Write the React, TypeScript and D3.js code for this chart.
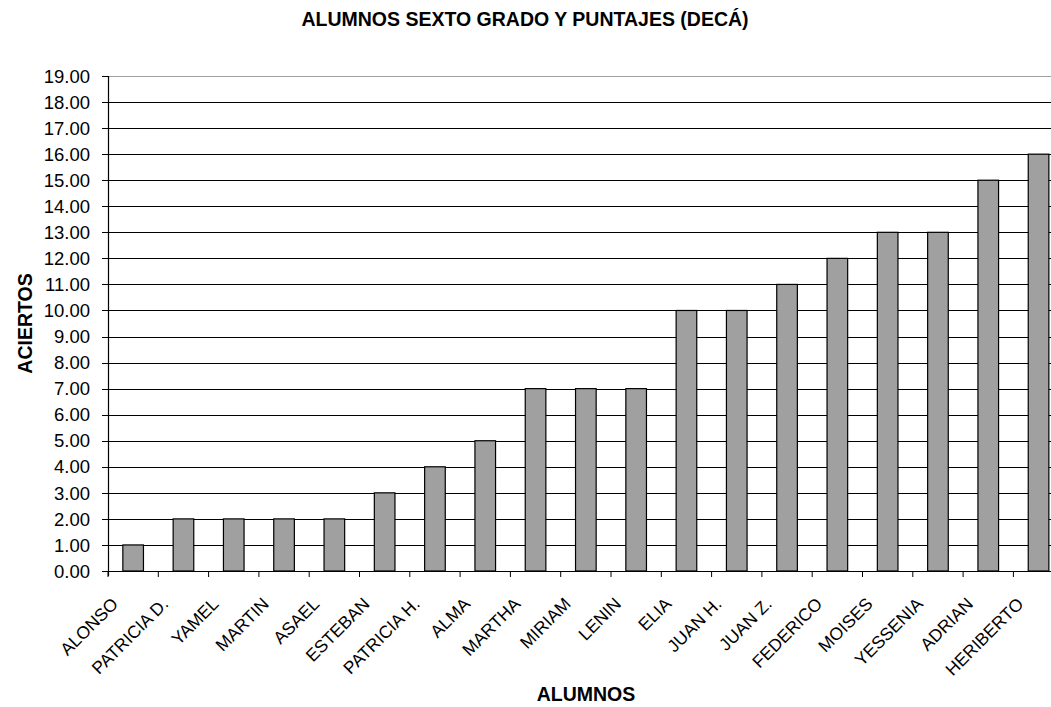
import React from "react";
import * as d3 from "d3";

const categories = [
  "ALONSO", "PATRICIA D.", "YAMEL", "MARTIN", "ASAEL", "ESTEBAN", "PATRICIA H.",
  "ALMA", "MARTHA", "MIRIAM", "LENIN", "ELIA", "JUAN H.", "JUAN Z.", "FEDERICO",
  "MOISES", "YESSENIA", "ADRIAN", "HERIBERTO",
];
const values = [1, 2, 2, 2, 2, 3, 4, 5, 7, 7, 7, 10, 10, 11, 12, 13, 13, 15, 16];
const yTicks = d3.range(0, 20, 1);
const title = "ALUMNOS SEXTO GRADO Y PUNTAJES (DECÁ)";
const xTitle = "ALUMNOS";
const yTitle = "ACIERTOS";

const W = 1051;
const H = 707;
const plotLeft = 108;
const step = 50.3;
const plotRight = plotLeft + step * categories.length;
const plotTop = 76;
const plotBottom = 571;
const FONT = "'Liberation Sans', Arial, sans-serif";

export default function App() {
  const x = d3
    .scaleBand<string>()
    .domain(categories)
    .range([plotLeft, plotRight])
    .paddingInner(0.59)
    .paddingOuter(0.295);
  const band = d3.scaleBand<string>().domain(categories).range([plotLeft, plotRight]);
  const y = d3.scaleLinear().domain([0, 19]).range([plotBottom, plotTop]);
  const fmt = d3.format(".2f");
  const boundaries = d3.range(0, categories.length + 1).map((i) => plotLeft + band.step() * i);

  return (
    <div style={{ position: "absolute", left: 0, top: 0 }}>
      <svg width={W} height={H} style={{ display: "block", background: "#fff" }} fontFamily={FONT}>
        <rect x={0} y={0} width={W} height={H} fill="#fff" />
        {yTicks.map((t) => (
          <line
            key={"g" + t}
            x1={plotLeft}
            x2={plotRight}
            y1={Math.round(y(t)) + 0.5}
            y2={Math.round(y(t)) + 0.5}
            stroke={t === 19 ? "#a0a0a0" : "#000"}
            strokeWidth={1}
          />
        ))}
        {categories.map((c, i) => (
          <rect
            key={c}
            x={x(c)!}
            y={y(values[i])}
            width={x.bandwidth()}
            height={y(0) - y(values[i])}
            fill="#a0a0a0"
            stroke="#000"
            strokeWidth={1.2}
          />
        ))}
        <line x1={plotLeft + 0.5} x2={plotLeft + 0.5} y1={plotTop} y2={plotBottom + 5} stroke="#000" strokeWidth={1.2} />
        {yTicks.map((t) => (
          <g key={"yt" + t}>
            <line
              x1={plotLeft - 6}
              x2={plotLeft}
              y1={Math.round(y(t)) + 0.5}
              y2={Math.round(y(t)) + 0.5}
              stroke="#000"
            />
            <text x={90} y={y(t)} dy="0.36em" textAnchor="end" fontSize={18.5} fill="#000">
              {fmt(t)}
            </text>
          </g>
        ))}
        <line x1={plotLeft} x2={plotRight} y1={plotBottom + 0.5} y2={plotBottom + 0.5} stroke="#000" strokeWidth={1.2} />
        {boundaries.map((b, i) => (
          <line key={"xt" + i} x1={b} x2={b} y1={plotBottom} y2={plotBottom + 6} stroke="#000" />
        ))}
        {categories.map((c) => {
          const cx = band(c)! + band.bandwidth() / 2;
          return (
            <text
              key={"xl" + c}
              transform={`translate(${cx - 14},${605}) rotate(-45)`}
              textAnchor="end"
              fontSize={17.5}
              fill="#000"
            >
              {c}
            </text>
          );
        })}
        <text x={525} y={26} textAnchor="middle" fontSize={19.5} fontWeight="bold" fill="#000">
          {title}
        </text>
        <text x={586} y={701} textAnchor="middle" fontSize={19.5} fontWeight="bold" fill="#000">
          {xTitle}
        </text>
        <text
          transform={`translate(32,323.5) rotate(-90)`}
          textAnchor="middle"
          fontSize={19.5}
          fontWeight="bold"
          fill="#000"
        >
          {yTitle}
        </text>
      </svg>
    </div>
  );
}
